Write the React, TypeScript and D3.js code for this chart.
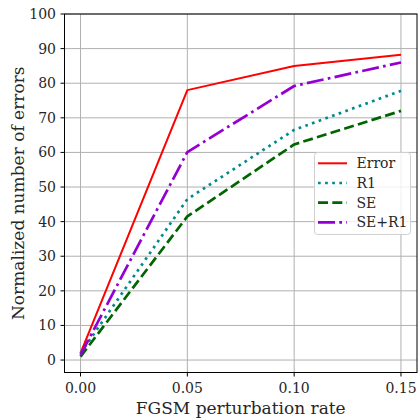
import React from "react";
import * as d3 from "d3";

const rates = [0.0, 0.05, 0.1, 0.15];
const errorVals = [2, 78, 85, 88.2];
const r1Vals = [2, 46.5, 66.5, 77.8];
const seVals = [1, 41.5, 62.3, 72];
const seR1Vals = [1.5, 60.1, 79.2, 86];
const seriesNames = ["Error", "R1", "SE", "SE+R1"];
const xTicks = [0, 0.05, 0.1, 0.15];
const yTicks = [0, 10, 20, 30, 40, 50, 60, 70, 80, 90, 100];

const W = 419, H = 418;
const L = 64.5, R = 417, T = 14, B = 372.5;

export default function App() {
  const x = d3.scaleLinear().domain([-0.0075, 0.1575]).range([L, R]);
  const y = d3.scaleLinear().domain([-3.6, 100]).range([B, T]);
  const line = d3.line<number>().x((_, i) => x(rates[i])).y((d) => y(d));
  const font = "DejaVu Serif";
  const styles = [
    { vals: errorVals, color: "#ff0000", w: 2, dash: "" },
    { vals: r1Vals, color: "#008b8b", w: 2.7, dash: "2.7,4.4" },
    { vals: seVals, color: "#006400", w: 2.7, dash: "10,4.3" },
    { vals: seR1Vals, color: "#9400d3", w: 2.7, dash: "17,4.3,2.7,4.3" },
  ];
  return (
    <svg width={W} height={H} style={{ position: "absolute", left: 0, top: 0 }}>
      <rect width={W} height={H} fill="#fff" />
      {xTicks.map((t) => (
        <line key={"gx" + t} x1={x(t)} x2={x(t)} y1={T} y2={B} stroke="#b0b0b0" strokeWidth={1} />
      ))}
      {yTicks.map((t) => (
        <line key={"gy" + t} x1={L} x2={R} y1={y(t)} y2={y(t)} stroke="#b0b0b0" strokeWidth={1} />
      ))}
      {styles.map((s, i) => (
        <path key={i} d={line(s.vals) || ""} fill="none" stroke={s.color} strokeWidth={s.w}
          strokeDasharray={s.dash || undefined} strokeLinejoin="round" />
      ))}
      <rect x={L} y={T} width={R - L} height={B - T} fill="none" stroke="#000" strokeWidth={1} />
      {xTicks.map((t) => (
        <g key={"tx" + t}>
          <line x1={x(t)} x2={x(t)} y1={B} y2={B + 4} stroke="#000" />
          <text x={x(t)} y={B + 20} textAnchor="middle" fontFamily={font} fontSize={14} fill="#262626">
            {d3.format(".2f")(t)}
          </text>
        </g>
      ))}
      {yTicks.map((t) => (
        <g key={"ty" + t}>
          <line x1={L - 4} x2={L} y1={y(t)} y2={y(t)} stroke="#000" />
          <text x={L - 8.5} y={y(t)} dy="0.36em" textAnchor="end" fontFamily={font} fontSize={14} fill="#262626">
            {t}
          </text>
        </g>
      ))}
      <text x={(L + R) / 2} y={414} textAnchor="middle" fontFamily={font} fontSize={17} fill="#262626">
        FGSM perturbation rate
      </text>
      <text transform={`translate(24,${(T + B) / 2}) rotate(-90)`} textAnchor="middle" fontFamily={font} fontSize={17} fill="#262626">
        Normalized number of errors
      </text>
      <rect x={314.5} y={152.5} width={96} height={82} rx={3} fill="#fff" fillOpacity={0.8} stroke="#d0d0d0" strokeWidth={1} />
      {styles.map((s, i) => {
        const ly = 163.3 + i * 19.7;
        return (
          <g key={"lg" + i}>
            <line x1={318} x2={347} y1={ly} y2={ly} stroke={s.color} strokeWidth={s.w} strokeDasharray={s.dash || undefined} />
            <text x={356.5} y={ly} dy="0.36em" fontFamily={font} fontSize={14} fill="#262626">
              {seriesNames[i]}
            </text>
          </g>
        );
      })}
    </svg>
  );
}
